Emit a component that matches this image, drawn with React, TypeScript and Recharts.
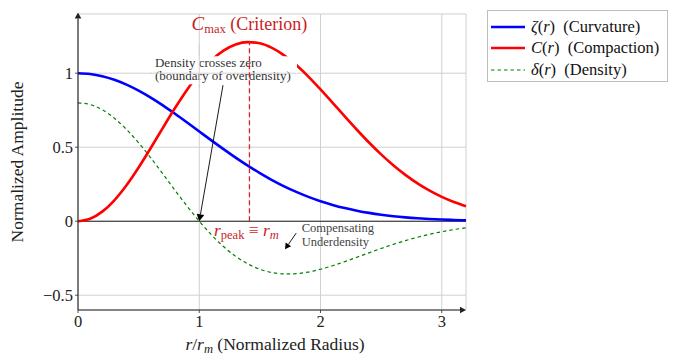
import React from "react";
import { LineChart, Line, XAxis, YAxis, CartesianGrid, ReferenceLine, ReferenceDot } from "recharts";

const radius = [
  0, 0.1, 0.2, 0.3, 0.4, 0.5, 0.6, 0.7, 0.8, 0.9, 1.0, 1.1, 1.2, 1.3, 1.4, 1.5, 1.6,
  1.7, 1.8, 1.9, 2.0, 2.1, 2.2, 2.3, 2.4, 2.5, 2.6, 2.7, 2.8, 2.9, 3.0, 3.1, 3.2,
];
const curvature = [
  1.0, 0.995, 0.98, 0.956, 0.923, 0.8825, 0.8353, 0.7827, 0.7261, 0.667, 0.6065, 0.5461,
  0.4868, 0.4296, 0.3753, 0.3247, 0.278, 0.2357, 0.1979, 0.1645, 0.1353, 0.1103, 0.0889,
  0.071, 0.0561, 0.0439, 0.034, 0.0261, 0.0198, 0.0149, 0.0111, 0.0082, 0.006,
];
const compaction = [
  0, 0.0164, 0.0645, 0.1415, 0.243, 0.3629, 0.4947, 0.6309, 0.7645, 0.8888, 0.9977, 1.087,
  1.1531, 1.1943, 1.2101, 1.2018, 1.1707, 1.1206, 1.0548, 0.9768, 0.8903, 0.8001, 0.7078,
  0.6179, 0.5316, 0.4513, 0.3781, 0.313, 0.2554, 0.2061, 0.1643, 0.1296, 0.1011,
];
const density = [
  0.8, 0.788, 0.7528, 0.696, 0.6203, 0.5295, 0.4277, 0.3193, 0.2091, 0.1014, 0, -0.0917,
  -0.1714, -0.2371, -0.2882, -0.3247, -0.3469, -0.3564, -0.3546, -0.3435, -0.3247, -0.3009,
  -0.2731, -0.2437, -0.2136, -0.1844, -0.1567, -0.1313, -0.1083, -0.0883, -0.0711, -0.0565,
  -0.0444,
];
const xTicks = [0, 1, 2, 3];
const yTicks = [-0.5, 0, 0.5, 1];

const peakR = 1.414;
const peakC = 1.21;
const zeroCrossR = 1;

const FONT = "'Liberation Serif', 'DejaVu Serif', serif";
const RED_TEXT = "#c81e1e";
const GRID = "#d0d0d0";

const data = radius.map((r, i) => ({
  r,
  zeta: curvature[i],
  comp: compaction[i],
  delta: density[i],
}));

const series = [
  { key: "zeta", sym: "ζ", label: "(Curvature)", color: "#0000ff", width: 2.6, dash: undefined },
  { key: "comp", sym: "C", label: "(Compaction)", color: "#ff0000", width: 2.6, dash: undefined },
  { key: "delta", sym: "δ", label: "(Density)", color: "#008000", width: 1.2, dash: "3.5 3" },
];

function arrowShape(color: string, width: number, head: number) {
  return (props: any) => {
    const { x1, y1, x2, y2 } = props;
    const a = Math.atan2(y2 - y1, x2 - x1);
    const w = head * 0.55;
    const bx = x2 - head * Math.cos(a);
    const by = y2 - head * Math.sin(a);
    const p1 = `${bx + w * Math.sin(a)},${by - w * Math.cos(a)}`;
    const p2 = `${bx - w * Math.sin(a)},${by + w * Math.cos(a)}`;
    return (
      <g>
        <line x1={x1} y1={y1} x2={bx} y2={by} stroke={color} strokeWidth={width} />
        <polygon points={`${x2},${y2} ${p1} ${p2}`} fill={color} />
      </g>
    );
  };
}

function textShape(lines: string[], opts: any) {
  return (props: any) => {
    const { cx, cy } = props;
    return (
      <g>
        {opts.box && (
          <rect x={cx - 3} y={cy - 11} width={opts.box[0]} height={opts.box[1]} fill="#fff" />
        )}
        <text x={cx} y={cy} fontFamily={FONT} fontSize={opts.size} fill={opts.color}>
          {lines.map((l, i) => (
            <tspan key={i} x={cx} dy={i === 0 ? 0 : opts.lineHeight}>
              {l}
            </tspan>
          ))}
        </text>
      </g>
    );
  };
}

function Legend() {
  return (
    <div
      style={{
        position: "absolute",
        left: 487,
        top: 10,
        width: 181,
        height: 72,
        border: "1px solid #bdbdbd",
        background: "#fff",
        boxSizing: "border-box",
        padding: "5px 0 0 3px",
        fontFamily: FONT,
        fontSize: 16.5,
        color: "#111",
      }}
    >
      {series.map((s) => (
        <div key={s.key} style={{ display: "flex", alignItems: "center", height: 21.5 }}>
          <svg width={36} height={8} style={{ marginRight: 4 }}>
            <line x1={0} y1={4} x2={34} y2={4} stroke={s.color} strokeWidth={s.width} strokeDasharray={s.dash} />
          </svg>
          <span style={{ fontStyle: "italic" }}>{s.sym}</span>
          <span>(</span>
          <span style={{ fontStyle: "italic" }}>r</span>
          <span>)&nbsp;&nbsp;{s.label}</span>
        </div>
      ))}
    </div>
  );
}

export default function App() {
  return (
    <div style={{ position: "absolute", left: 0, top: 0, width: 673, height: 356, background: "#fff" }}>
      <LineChart width={673} height={356} data={data} margin={{ top: 14, right: 207, left: 18, bottom: 16 }}>
        <CartesianGrid stroke={GRID} strokeWidth={1} />
        <XAxis
          dataKey="r"
          type="number"
          domain={[0, 3.2]}
          ticks={xTicks}
          height={30}
          axisLine={false}
          tickLine={{ stroke: "#555" }}
          tickSize={3}
          tick={{ fontFamily: FONT, fontSize: 16.5, fill: "#222" }}
          label={{
            value: "",
            content: (p: any) => {
              const vb = p.viewBox;
              return (
                <text x={vb.x + vb.width / 2 + 3} y={vb.y + 40} textAnchor="middle" fontFamily={FONT} fontSize={17.5} fill="#222">
                  <tspan fontStyle="italic">r</tspan>
                  <tspan>/</tspan>
                  <tspan fontStyle="italic">r</tspan>
                  <tspan fontStyle="italic" fontSize={12.5} dy={3}>m</tspan>
                  <tspan dy={-3}> (Normalized Radius)</tspan>
                </text>
              );
            },
          }}
        />
        <YAxis
          type="number"
          domain={[-0.6, 1.4]}
          ticks={yTicks}
          width={60}
          axisLine={false}
          tickLine={{ stroke: "#555" }}
          tickSize={3}
          tickFormatter={(v: number) => (v < 0 ? "−" + Math.abs(v) : String(v))}
          tick={{ fontFamily: FONT, fontSize: 16.5, fill: "#222" }}
          label={{
            value: "",
            content: (p: any) => {
              const vb = p.viewBox;
              const cy = vb.y + vb.height / 2;
              return (
                <text
                  x={vb.x - 1}
                  y={cy}
                  transform={`rotate(-90 ${vb.x - 1} ${cy})`}
                  textAnchor="middle"
                  dominantBaseline="central"
                  fontFamily={FONT}
                  fontSize={17.5}
                  fill="#222"
                >
                  Normalized Amplitude
                </text>
              );
            },
          }}
        />

        <ReferenceLine y={0} stroke="#222" strokeWidth={1.1} />

        <Line dataKey="delta" type="monotone" stroke="#008000" strokeWidth={1.2} strokeDasharray="3.5 3" dot={false} activeDot={false} isAnimationActive={false} />
        <Line dataKey="zeta" type="monotone" stroke="#0000ff" strokeWidth={2.6} dot={false} activeDot={false} isAnimationActive={false} />
        <Line dataKey="comp" type="monotone" stroke="#ff0000" strokeWidth={2.6} dot={false} activeDot={false} isAnimationActive={false} />

        {/* annotation with white backing box (hides the red curve, grid redrawn on top) */}
        <ReferenceDot
          x={0.635}
          y={1.04}
          r={0}
          ifOverflow="visible"
          zIndex={900}
          shape={textShape(["Density crosses zero", "(boundary of overdensity)"], {
            size: 13,
            color: "#333",
            lineHeight: 13,
            box: [145, 28],
          })}
        />
        <ReferenceLine segment={[{ x: 1, y: 0.9 }, { x: 1, y: 1.2 }]} stroke={GRID} strokeWidth={1} zIndex={910} />
        <ReferenceLine segment={[{ x: 0.6, y: 1 }, { x: 1.8, y: 1 }]} stroke={GRID} strokeWidth={1} zIndex={910} />

        <ReferenceLine
          segment={[{ x: peakR, y: 0 }, { x: peakR, y: peakC }]}
          stroke="#e02020"
          strokeWidth={1.3}
          strokeDasharray="5 3"
          zIndex={920}
        />

        {/* axes with arrowheads */}
        <ReferenceLine segment={[{ x: 0, y: -0.6 }, { x: 3.2, y: -0.6 }]} ifOverflow="visible" zIndex={920} shape={arrowShape("#222", 1.1, 6)} />
        <ReferenceLine segment={[{ x: 0, y: -0.6 }, { x: 0, y: 1.41 }]} ifOverflow="visible" zIndex={920} shape={arrowShape("#222", 1.1, 6)} />

        {/* annotation arrows */}
        <ReferenceLine segment={[{ x: 1.196, y: 0.919 }, { x: zeroCrossR, y: 0 }]} ifOverflow="visible" zIndex={930} shape={arrowShape("#000", 0.9, 7)} />
        <ReferenceLine segment={[{ x: 1.8, y: -0.08 }, { x: 1.707, y: -0.19 }]} ifOverflow="visible" zIndex={930} shape={arrowShape("#000", 0.9, 6)} />

        <ReferenceDot
          x={peakR}
          y={peakC}
          r={0}
          ifOverflow="visible"
          zIndex={940}
          shape={(p: any) => (
            <text x={p.cx} y={p.cy - 12} textAnchor="middle" fontFamily={FONT} fontSize={18} fill={RED_TEXT}>
              <tspan fontStyle="italic" fontSize={19}>C</tspan>
              <tspan fontSize={12.5} dy={3}>max</tspan>
              <tspan dy={-3}>&#160;(Criterion)</tspan>
            </text>
          )}
        />
        <ReferenceDot
          x={peakR}
          y={0}
          r={0}
          ifOverflow="visible"
          zIndex={940}
          shape={(p: any) => (
            <text x={p.cx - 3} y={p.cy + 15} textAnchor="middle" fontFamily={FONT} fontSize={17.5} fill={RED_TEXT}>
              <tspan fontStyle="italic">r</tspan>
              <tspan fontSize={12.5} dy={3}>peak</tspan>
              <tspan dy={-3}> ≡ </tspan>
              <tspan fontStyle="italic">r</tspan>
              <tspan fontStyle="italic" fontSize={12.5} dy={3}>m</tspan>
            </text>
          )}
        />
        <ReferenceDot
          x={1.845}
          y={-0.075}
          r={0}
          ifOverflow="visible"
          zIndex={940}
          shape={textShape(["Compensating", "Underdensity"], {
            size: 12.5,
            color: "#444",
            lineHeight: 14,
          })}
        />
      </LineChart>
      <Legend />
    </div>
  );
}
